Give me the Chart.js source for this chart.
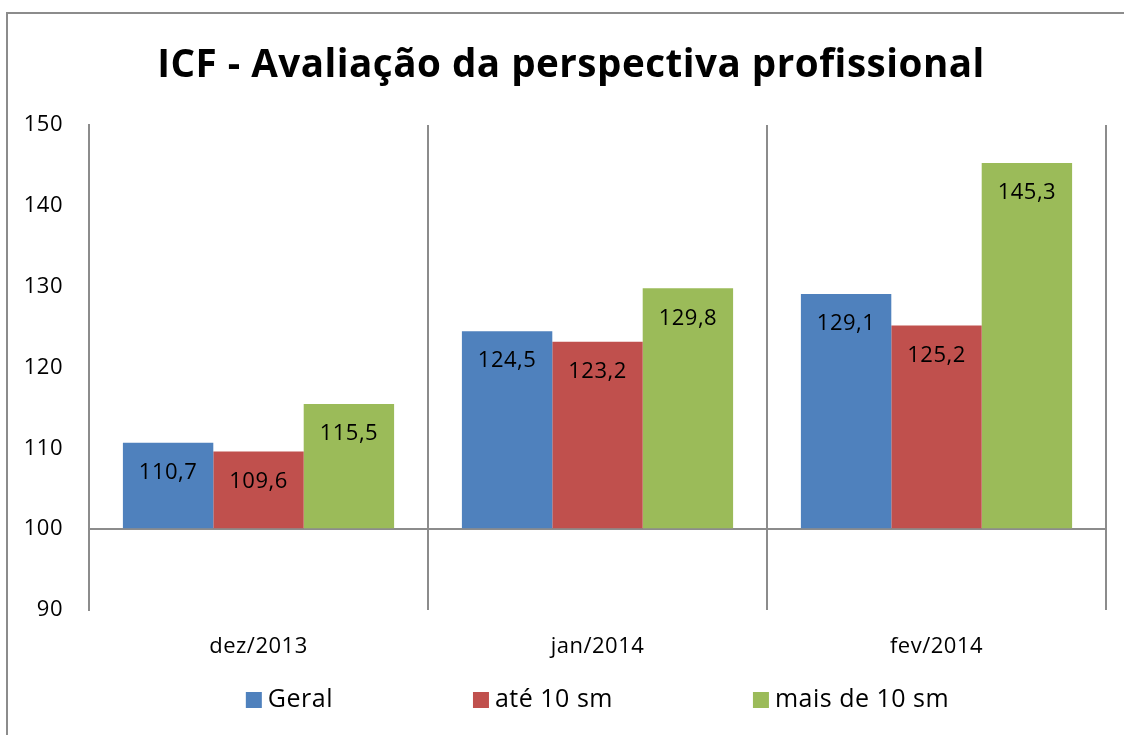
<!DOCTYPE html>
<html>
<head>
<meta charset="utf-8">
<script src="https://cdn.jsdelivr.net/npm/chart.js"></script>
<style>
  body { margin: 0; background: #fff; }
  #wrap { width: 1124px; height: 735px; }
</style>
</head>
<body>
<div id="wrap"><canvas id="icf" width="1124" height="735"></canvas></div>
<script>
// dados
const meses = ['dez/2013', 'jan/2014', 'fev/2014'];
const geral = [110.7, 124.5, 129.1];
const ate10 = [109.6, 123.2, 125.2];
const mais10 = [115.5, 129.8, 145.3];
const serieNomes = ['Geral', 'até 10 sm', 'mais de 10 sm'];
const yTicks = [90, 100, 110, 120, 130, 140, 150];
const titulo = 'ICF - Avaliação da perspectiva profissional';

const cores = ['#4F81BD', '#C0504D', '#9BBB59'];
const fonte = '"Open Sans", sans-serif';
const cinza = '#8c8c8c';

// moldura externa (so esquerda e topo aparecem) + titulo
const moldura = {
    id: 'moldura',
    afterInit(chart) {
        chart.ctx.letterSpacing = '0.5px';
    },
    beforeDraw(chart) {
        const ctx = chart.ctx;
        ctx.save();
        ctx.strokeStyle = cinza;
        ctx.lineWidth = 2;
        ctx.beginPath();
        ctx.moveTo(7, chart.height);
        ctx.lineTo(7, 13);
        ctx.lineTo(chart.width, 13);
        ctx.stroke();
        ctx.font = 'bold 38.6px ' + fonte;
        ctx.fillStyle = '#000';
        ctx.textAlign = 'center';
        ctx.textBaseline = 'alphabetic';
        ctx.fillText(titulo, 571, 77);
        ctx.restore();
    }
};

// rotulos dentro das barras
const rotulos = {
    id: 'rotulos',
    afterDatasetsDraw(chart) {
        const ctx = chart.ctx;
        ctx.save();
        ctx.font = '22px ' + fonte;
        ctx.fillStyle = '#000';
        ctx.textAlign = 'center';
        ctx.textBaseline = 'middle';
        chart.data.datasets.forEach((ds, i) => {
            chart.getDatasetMeta(i).data.forEach((bar, j) => {
                ctx.fillText(ds.data[j].toFixed(1).replace('.', ','), bar.x, bar.y + 30);
            });
        });
        ctx.restore();
    }
};

// legenda desenhada a mao, com espacamento largo
const legenda = {
    id: 'legenda',
    afterDraw(chart) {
        const ctx = chart.ctx;
        const area = chart.chartArea;
        ctx.save();
        ctx.font = '25px ' + fonte;
        ctx.textBaseline = 'middle';
        const box = 16, gap = 6, espaco = 140;
        const larguras = serieNomes.map(n => box + gap + ctx.measureText(n).width);
        const total = larguras.reduce((a, b) => a + b, 0) + espaco * (serieNomes.length - 1);
        let x = (area.left + area.right) / 2 - total / 2;
        const y = 700;
        serieNomes.forEach((n, i) => {
            ctx.fillStyle = cores[i];
            ctx.fillRect(x, y - box / 2, box, box);
            ctx.fillStyle = '#000';
            ctx.fillText(n, x + box + gap, y);
            x += larguras[i] + espaco;
        });
        ctx.restore();
    }
};

new Chart(document.getElementById('icf'), {
    type: 'bar',
    data: {
        labels: meses,
        datasets: [
            { label: serieNomes[0], data: geral, backgroundColor: cores[0] },
            { label: serieNomes[1], data: ate10, backgroundColor: cores[1] },
            { label: serieNomes[2], data: mais10, backgroundColor: cores[2] }
        ]
    },
    options: {
        responsive: false,
        animation: false,
        base: 100,
        categoryPercentage: 0.8,
        barPercentage: 1.0,
        layout: { padding: { left: 0, right: 18, top: 125, bottom: 0 } },
        plugins: {
            legend: { display: false },
            tooltip: { enabled: false },
            title: { display: false }
        },
        scales: {
            x: {
                afterFit(scale) { scale.height = 125; },
                grid: { offset: true, color: cinza, lineWidth: 2, drawTicks: false },
                border: { display: false },
                ticks: { color: '#000', font: { family: fonte, size: 22 }, padding: 24 }
            },
            y: {
                min: yTicks[0],
                max: yTicks[yTicks.length - 1],
                afterFit(scale) { scale.width = 89; },
                afterBuildTicks(scale) { scale.ticks = yTicks.map(v => ({ value: v })); },
                grid: {
                    drawTicks: false,
                    lineWidth: 2,
                    color: ctx => (ctx.tick && ctx.tick.value === 100) ? cinza : 'rgba(0,0,0,0)'
                },
                border: { display: true, color: cinza, width: 2 },
                ticks: { color: '#000', font: { family: fonte, size: 22 }, padding: 26 }
            }
        }
    },
    plugins: [moldura, rotulos, legenda]
});
</script>
</body>
</html>
